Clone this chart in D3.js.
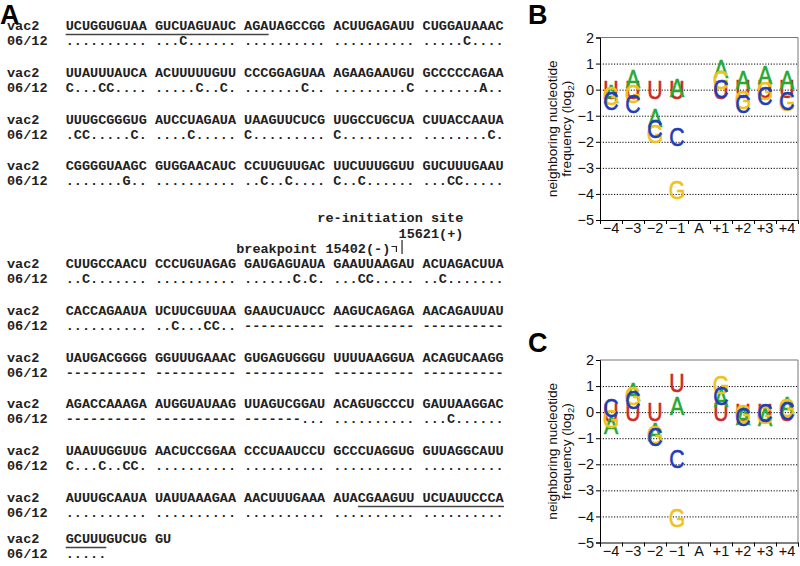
<!DOCTYPE html>
<html><head><meta charset="utf-8">
<script src="https://cdn.jsdelivr.net/npm/d3@7"></script>
<style>body{margin:0;background:#fff}svg{display:block}</style>
</head><body><svg id="fig" width="800" height="566"></svg>
<script>
// ---------- Panel A data ----------
const rowLabels = ["vac2", "06/12"];
const vac2Rows = [
  "UCUGGUGUAA GUCUAGUAUC AGAUAGCCGG ACUUGAGAUU CUGGAUAAAC",
  "UUAUUUAUCA ACUUUUUGUU CCCGGAGUAA AGAAGAAUGU GCCCCCAGAA",
  "UUUGCGGGUG AUCCUAGAUA UAAGUUCUCG UUGCCUGCUA CUUACCAAUA",
  "CGGGGUAAGC GUGGAACAUC CCUUGUUGAC UUCUUUGGUU GUCUUUGAAU",
  "CUUGCCAACU CCCUGUAGAG GAUGAGUAUA GAAUUAAGAU ACUAGACUUA",
  "CACCAGAAUA UCUUCGUUAA GAAUCUAUCC AAGUCAGAGA AACAGAUUAU",
  "UAUGACGGGG GGUUUGAAAC GUGAGUGGGU UUUUAAGGUA ACAGUCAAGG",
  "AGACCAAAGA AUGGUAUAAG UUAGUCGGAU ACAGUGCCCU GAUUAAGGAC",
  "UAAUUGGUUG AACUCCGGAA CCCUAAUCCU GCCCUAGGUG GUUAGGCAUU",
  "AUUUGCAAUA UAUUAAAGAA AACUUUGAAA AUACGAAGUU UCUAUUCCCA",
  "GCUUUGUCUG GU"
];
const mutRows = [
  ".......... ...C...... .......... .......... .....C....",
  "C...CC.... .....C..C. .......C.. .........C .......A..",
  ".CC.....C. ....C..... C......... C......... ........C.",
  ".......G.. .......... ..C..C.... C..C...... ...CC.....",
  "..C....... .......... ......C.C. ...CC..... ..C.......",
  ".......... ..C...CC.. ---------- ---------- ----------",
  "---------- ---------- ---------- ---------- ----------",
  "---------- ---------- -------... .......... ...C......",
  "C...C..CC. .......... .......... .......... ..........",
  ".......... .......... .......... .......... ..........",
  "....."
];
// underlined stretches: row, first char index, end char index
const underlineRows = [0, 9, 10];
const underlineFrom = [0, 36, 0];
const underlineTo = [25, 54, 5];
const annotReinit = ["re-initiation site", "15621(+)"];
const annotBreak = "breakpoint 15402(-)";

// ---------- Panels B, C data ----------
const positions = ["\u22124", "\u22123", "\u22122", "\u22121", "A", "+1", "+2", "+3", "+4"];
const nucleotides = ["U", "A", "G", "C"];
const nucColors = ["#cc2a1e", "#26a832", "#f0c21c", "#1e3eb8"];
const yTicks = [2, 1, 0, -1, -2, -3, -4, -5];
const gridValues = [1, 0, -1, -2, -3, -4];
// panel B (log2 frequencies), null = no value
const bU = [0, 0, 0, 0, null, 0, 0.02, 0.02, 0.02];
const bA = [-0.15, 0.4, -1.1, 0.05, null, 0.78, 0.36, 0.55, 0.36];
const bG = [-0.25, -0.15, -1.7, -3.86, null, 0.37, -0.38, -0.07, -0.47];
const bC = [-0.42, -0.55, -1.5, -1.82, null, 0.04, -0.55, -0.23, -0.43];
// panel C
const cU = [-0.05, 0, 0, 1.1, null, 0, -0.02, -0.02, 0];
const cA = [-0.5, 0.78, -0.78, 0.25, null, 0.55, -0.15, -0.2, 0.25];
const cG = [-0.25, 0.62, -0.88, -4.06, null, 1.05, -0.08, -0.12, 0.15];
const cC = [0.15, 0.47, -0.95, -1.8, null, 0.6, -0.18, -0.05, 0.05];

const svg = d3.select("#fig");

// ---------- Panel A ----------
const mono = "'Liberation Mono','Courier New',monospace";
const fsMono = 13.53;
const charW = fsMono * 0.6;
const seqX0 = 65.7;
const labelX = 7;
const blockIdx = d3.range(vac2Rows.length);
const blockY = i => i < 4 ? 30 + i * 46.8 : (i < 10 ? 268 + (i - 4) * 46.8 : 543);
const cx = d3.scaleLinear().domain([0, 1]).range([seqX0, seqX0 + charW]);

svg.append("text").attr("x", 0).attr("y", 24)
  .style("font", "bold 27px 'Liberation Sans',Arial,sans-serif").text("A");

const gA = svg.append("g").style("font-family", mono).style("font-size", fsMono + "px")
  .style("font-weight", "bold").style("white-space", "pre").attr("fill", "#222");

blockIdx.forEach(i => {
  gA.append("text").attr("x", labelX).attr("y", blockY(i)).text(rowLabels[0]);
  gA.append("text").attr("x", cx(0)).attr("y", blockY(i)).text(vac2Rows[i]);
  gA.append("text").attr("x", labelX).attr("y", blockY(i) + 15).text(rowLabels[1]);
  gA.append("text").attr("x", cx(0)).attr("y", blockY(i) + 15).text(mutRows[i]);
});
underlineRows.forEach((r, k) => {
  svg.append("line").attr("x1", cx(underlineFrom[k])).attr("x2", cx(underlineTo[k]))
    .attr("y1", blockY(r) + 4.5).attr("y2", blockY(r) + 4.5)
    .attr("stroke", "#444").attr("stroke-width", 1.4);
});
// annotation
gA.append("text").attr("x", cx(31)).attr("y", 222).text(annotReinit[0]);
gA.append("text").attr("x", cx(41)).attr("y", 238).text(annotReinit[1]);
gA.append("text").attr("x", cx(21)).attr("y", 253).text(annotBreak);
svg.append("path").attr("d", `M${cx(40) + 1},${246.5}H${cx(40) + 6}V${252}`)
  .attr("fill", "none").attr("stroke", "#222").attr("stroke-width", 1.2);
svg.append("line").attr("x1", cx(41) + 3.5).attr("x2", cx(41) + 3.5)
  .attr("y1", 240).attr("y2", 254).attr("stroke", "#222").attr("stroke-width", 1.2);

// ---------- Panels B, C ----------
const sans = "'Liberation Sans',Arial,Helvetica,sans-serif";
function logoPanel(label, top, labelBase, series) {
  const g = svg.append("g");
  const x = d3.scaleBand().domain(positions).range([600, 798]);
  const xi = d3.scaleLinear().domain([0, positions.length]).range([600, 798]);
  const y = d3.scaleLinear().domain([-5, 2]).range([top + 182.5, top]);

  svg.append("text").attr("x", 528).attr("y", labelBase)
    .style("font", "bold 27px " + sans).text(label);

  // grid
  g.append("g").attr("transform", "translate(600,0)")
    .call(d3.axisLeft(y).tickValues(gridValues).tickSize(-198).tickFormat(""))
    .call(a => a.select(".domain").remove())
    .selectAll("line").attr("stroke", "#000").attr("stroke-dasharray", "1.2,1.6").attr("stroke-width", 1);

  // frame top/right
  g.append("path").attr("d", `M600,${y(2)}H798V${y(-5)}`)
    .attr("fill", "none").attr("stroke", "#777").attr("stroke-width", 1);

  // y axis
  g.append("g").attr("transform", "translate(600,0)")
    .call(d3.axisLeft(y).tickValues(yTicks).tickSize(4).tickPadding(2).tickFormat(d3.format("d")))
    .call(a => a.selectAll("text").style("font", "14.5px " + sans).attr("fill", "#111"))
    .call(a => a.selectAll("line,path").attr("stroke", "#000"));

  // x axis: ticks at band boundaries
  g.append("g").attr("transform", `translate(0,${y(-5)})`)
    .call(d3.axisBottom(xi).tickValues(d3.range(0, positions.length + 1)).tickSize(4).tickFormat(""))
    .call(a => a.selectAll("line,path").attr("stroke", "#000"));
  g.append("g").attr("transform", `translate(0,${y(-5)})`)
    .call(d3.axisBottom(x).tickSize(0).tickPadding(3))
    .call(a => a.select(".domain").remove())
    .call(a => a.selectAll("text").style("font", "14.5px " + sans).attr("fill", "#111"));

  // y label
  const yl = g.append("text").attr("transform", `translate(557,${(y(2) + y(-5)) / 2}) rotate(-90)`)
    .attr("text-anchor", "middle").style("font", "13.6px " + sans).attr("fill", "#111");
  yl.append("tspan").attr("x", 0).attr("y", 0).text("neighboring nucleotide");
  yl.append("tspan").attr("x", 0).attr("y", 14).text("frequency (log");
  yl.append("tspan").attr("dy", 3).style("font-size", "9.5px").text("2");
  yl.append("tspan").attr("dy", -3).text(")");

  // letters
  const fsL = 25;
  nucleotides.forEach((n, k) => {
    const vals = series[k];
    g.append("g").selectAll("text")
      .data(positions.map((p, i) => ({ p, v: vals[i] })).filter(d => d.v !== null))
      .join("text")
      .attr("transform", d => `translate(${x(d.p) + x.bandwidth() / 2},${y(d.v) + fsL * 0.358}) scale(0.85,1)`)
      .attr("text-anchor", "middle")
      .style("font", fsL + "px " + sans)
      .attr("fill", nucColors[k])
      .attr("stroke", nucColors[k]).attr("stroke-width", 0.6)
      .text(n);
  });
}
logoPanel("B", 37.5, 24, [bU, bA, bG, bC]);
logoPanel("C", 360, 352, [cU, cA, cG, cC]);
</script></body></html>
